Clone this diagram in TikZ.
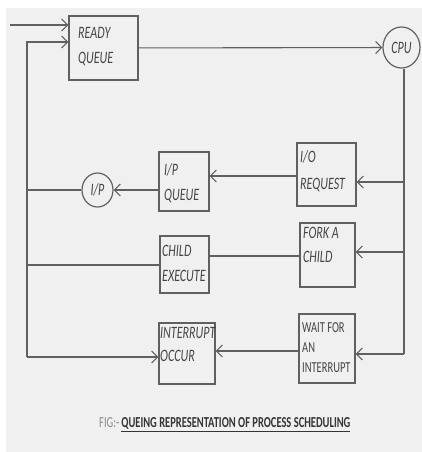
\documentclass[tikz,border=0pt]{standalone}
\usepackage{fontspec}
\setmainfont{Carlito}
\usepackage{graphicx}
\usetikzlibrary{arrows.meta,shapes.geometric}
\newcommand\stt[1]{\scalebox{1}[1.45]{#1}}
\definecolor{bgc}{HTML}{F0F0F0}
\definecolor{linec}{HTML}{606060}
\definecolor{txtc}{HTML}{454545}
\definecolor{capc}{HTML}{353535}
\definecolor{figc}{HTML}{8A8A8A}
\begin{document}
\begin{tikzpicture}[x=1pt,y=-1pt,
  boxn/.style={draw=linec, line width=1.2pt, rectangle, inner sep=0pt},
  circn/.style={draw=linec, line width=1.2pt, ellipse, inner sep=0pt, text=txtc, font=\fontsize{12}{14}\selectfont\itshape},
  arr/.style={draw=linec, line width=1.1pt, -{Straight Barb[length=6pt,width=12pt]}},
  ln/.style={draw=linec, line width=1.1pt},
  lbl/.style={anchor=north west, inner sep=0pt, align=left, text=txtc, font=\fontsize{12}{25}\selectfont\itshape}]
\useasboundingbox (0,0) rectangle (422,452);
\fill[white] (0,0) rectangle (422,452);
\fill[bgc] (6,8) rectangle (422,452);

% boxes
\node[boxn, minimum width=69pt, minimum height=64pt] (rq) at (103.5,48) {};
\node[circn, minimum width=37pt, minimum height=41pt] (cpu) at (401.5,47.5) {\stt{CPU}};
\node[circn, minimum width=31pt, minimum height=34pt] (ipc) at (97.5,190) {\stt{I/P}};
\node[boxn, minimum width=50pt, minimum height=59pt] (ipq) at (184,181.5) {};
\node[boxn, minimum width=59pt, minimum height=63pt] (ior) at (326.5,174.5) {};
\node[boxn, minimum width=55pt, minimum height=64pt] (fork) at (327.5,255) {};
\node[boxn, minimum width=49pt, minimum height=57pt] (child) at (184.5,264.5) {};
\node[boxn, minimum width=56pt, minimum height=61pt] (intr) at (187,353.5) {};
\node[boxn, minimum width=56pt, minimum height=69pt] (wait) at (327,348.5) {};

% labels
\node[lbl] (trq) at (78,27) {\stt{READY}\\\stt{QUEUE}};
\node[lbl] (tipq) at (164,163) {\stt{I/P}\\\stt{QUEUE}};
\node[lbl, font=\fontsize{12}{27}\selectfont\itshape] (tior) at (300,150) {\stt{I/O}\\\stt{REQUEST}};
\node[lbl, font=\fontsize{12}{24}\selectfont\itshape] (tfork) at (303,227) {\stt{FORK A}\\\stt{CHILD}};
\node[lbl] (tchild) at (162,245) {\stt{CHILD}\\\stt{EXECUTE}};
\node[lbl, font=\fontsize{12}{23}\selectfont\itshape] (tintr) at (160,327) {\stt{INTERRUPT}\\\stt{OCCUR}};
\node[lbl, font=\fontsize{10.5}{20}\selectfont] (twait) at (302,322) {\stt{WAIT FOR}\\\stt{AN}\\\stt{INTERRUPT}};

% caption
\node[anchor=base west, inner sep=0pt, font=\fontsize{10.5}{12}\selectfont] (cap) at (99,427)
  {\textcolor{figc}{\stt{FIG:-}}\hspace{2pt}\textcolor{capc}{\stt{\bfseries\underline{QUEING REPRESENTATION OF PROCESS SCHEDULING}}}};

% coordinates
\coordinate (in1) at (10,25);
\coordinate (ltop) at (27,42);
\coordinate (lbot) at (27,357);
\coordinate (lip) at (27,190);
\coordinate (lch) at (27,265);
\coordinate (rx) at (404,0);
\coordinate (rio) at (404,182);
\coordinate (rfk) at (404,252);
\coordinate (rbot) at (404,354);
\coordinate (iol) at (297,176);
\coordinate (fkl) at (300,256);
\coordinate (wtl) at (299,351);

% connectors
\draw[arr] (in1) -- (in1 -| rq.west);
\draw[arr] (lbot) -- (ltop) -- (ltop -| rq.west);
\draw[arr] (rq) -- (cpu);
\draw[ln] (cpu.south -| rx) -- (rbot);
\draw[arr] (rio) -- (rio -| ior.east);
\draw[arr] (rfk) -- (rfk -| fork.east);
\draw[arr] (rbot) -- (rbot -| wait.east);
\draw[arr] (iol) -- (iol -| ipq.east);
\draw[arr] (ipq.west |- ipc) -- (ipc.east);
\draw[ln] (ipc.west) -- (lip);
\draw[ln] (fkl) -- (fkl -| child.east);
\draw[ln] (child.west |- lch) -- (lch);
\draw[arr] (wtl) -- (wtl -| intr.east);
\draw[arr] (lbot) -- (lbot -| intr.west);
\end{tikzpicture}
\end{document}
